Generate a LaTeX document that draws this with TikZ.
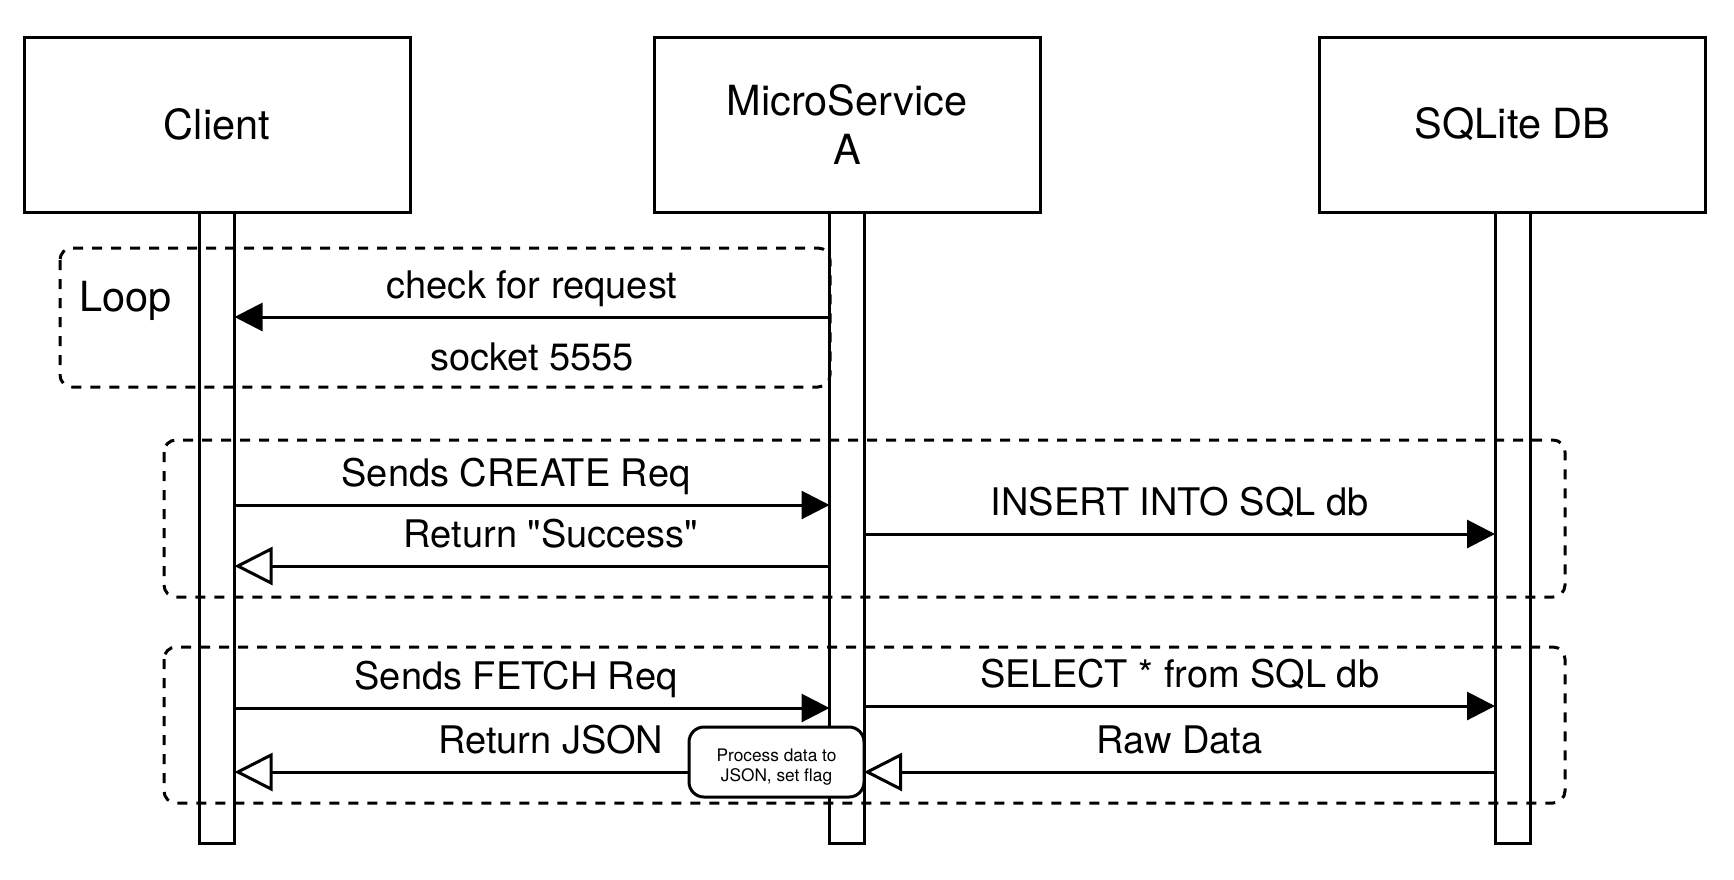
\documentclass[tikz,border=0pt]{standalone}
\usepackage{fontspec}
\setmainfont{TeX Gyre Heros}[Ligatures=TeXOff]
\usetikzlibrary{positioning,arrows.meta}

\begin{document}
\begin{tikzpicture}[x=0.5pt,y=-0.5pt,line width=1.5pt,
		headbox/.style={draw,fill=white,outer sep=0pt,minimum width=193pt,minimum height=87.5pt,align=center,font=\fontsize{20.75}{24.2}\selectfont},
		lifebox/.style={draw,outer sep=0pt,minimum width=17.5pt,minimum height=315.5pt},
		procbox/.style={draw,fill=white,rounded corners=7.5pt,outer sep=0pt,minimum width=87.5pt,minimum height=35pt,align=center,font=\fontsize{8.65}{10.85}\selectfont},
		fragbox/.style={dash pattern=on 5pt off 4.5pt,rounded corners=6pt},
		msgtext/.style={font=\fontsize{19}{22}\selectfont,inner sep=0pt,anchor=base,yshift=9.5pt},
		sync/.style={-{Triangle[length=14pt,width=14pt]}},
		reply/.style={-{Triangle[open,length=19pt,width=19pt]}}]

	\path[use as bounding box,fill=white] (0,0) rectangle (1734,879);

	\node[headbox]							(client)	at (217,124.5)	{Client};
	\node[headbox,right=122pt of client]	(msvc)		{MicroService\\A};
	\node[headbox,right=139.75pt of msvc]	(sqlite)	{SQLite DB};

	\node[lifebox,below=0pt of client]	(clife)	{};
	\node[lifebox,below=0pt of msvc]	(mlife)	{};
	\node[lifebox,below=0pt of sqlite]	(slife)	{};

	\draw[fragbox] (60,248) rectangle (830,387);
	\draw[fragbox] (164,440) rectangle (1565,597);
	\draw[fragbox] (164,647) rectangle (1565,803);
	\node[font=\fontsize{20.75}{24}\selectfont,inner sep=0pt,anchor=base west] (loop) at (78,311) {Loop};

	\coordinate (chk)		at (0,317);
	\coordinate (create)	at (0,505);
	\coordinate (insert)	at (0,534);
	\coordinate (success)	at (0,566);
	\coordinate (fetch)		at (0,708);
	\coordinate (select)	at (0,706);
	\coordinate (raw)		at (0,772);

	\node[procbox] (proc) at (776.5,762) {\raisebox{-2.5pt}[\height][\depth]{\shortstack{Process data to\\JSON, set flag}}};

	\draw[sync] (mlife.west |- chk) -- node[msgtext]{check for request} node[msgtext,yshift=-36pt]{socket 5555} (clife.east |- chk);
	\draw[sync] (clife.east |- create) -- node[msgtext,pos=.473]{Sends CREATE Req} (mlife.west |- create);
	\draw[sync] (mlife.east |- insert) -- node[msgtext]{INSERT INTO SQL db} (slife.west |- insert);
	\draw[reply] (mlife.west |- success) -- node[msgtext,pos=.468]{Return "Success"} (clife.east |- success);
	\draw[sync] (clife.east |- fetch) -- node[msgtext,pos=.473]{Sends FETCH Req} (mlife.west |- fetch);
	\draw[sync] (mlife.east |- select) -- node[msgtext]{SELECT * from SQL db} (slife.west |- select);
	\draw[reply] (slife.west |- raw) -- node[msgtext]{Raw Data} (proc.east |- raw);
	\draw[reply] (proc.west |- raw) -- node[msgtext,pos=.304]{Return JSON} (clife.east |- raw);
\end{tikzpicture}
\end{document}
